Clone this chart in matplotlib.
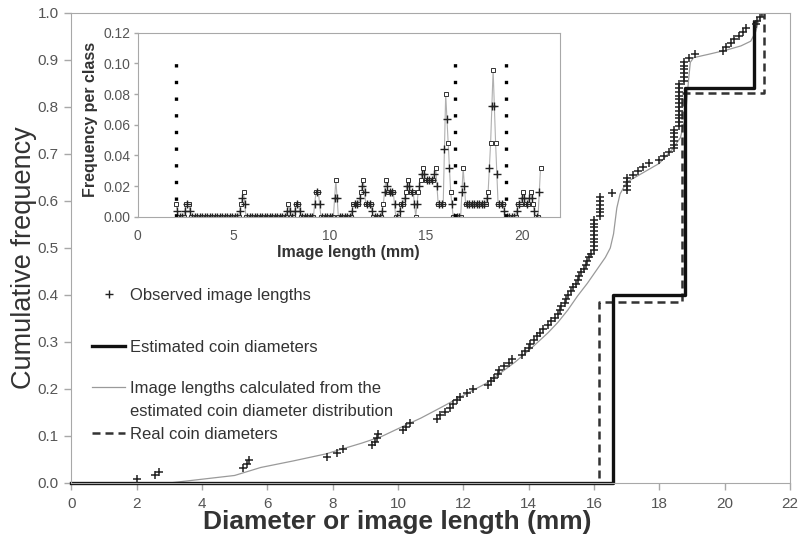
import numpy as np
import matplotlib.pyplot as plt
from matplotlib.lines import Line2D

plt.rcParams['font.family'] = ['Liberation Sans', 'DejaVu Sans']

# observed image lengths (mm), sorted, one per coin image (n = 125)
obs_len = [2.0, 2.56, 2.68,
           5.25, 5.38, 5.45,
           7.82, 8.12, 8.33,
           9.2, 9.3, 9.35, 9.4,
           10.15, 10.25, 10.37,
           11.2, 11.3, 11.45, 11.6, 11.7, 11.8, 11.9, 12.1, 12.3,
           12.75, 12.85, 12.95, 13.05, 13.1, 13.25, 13.4, 13.5,
           13.8, 13.9, 14.0, 14.05, 14.15, 14.25, 14.35, 14.45,
           14.6, 14.7, 14.8, 14.9, 14.95, 15.0, 15.1, 15.15, 15.2, 15.3, 15.36,
           15.45, 15.5, 15.55, 15.6, 15.7, 15.75, 15.8, 15.85, 15.9,
           16.0, 16.0, 16.0, 16.0, 16.0, 16.0, 16.0, 16.0, 16.0,
           16.2, 16.2, 16.2, 16.2, 16.2, 16.2,
           16.55,
           17.02, 17.02, 17.02, 17.02,
           17.2, 17.35, 17.5, 17.7,
           18.0, 18.15, 18.3,
           18.45, 18.45, 18.45, 18.45, 18.45, 18.45,
           18.6, 18.6, 18.6, 18.6, 18.6, 18.6, 18.6, 18.6, 18.6, 18.6, 18.6, 18.6,
           18.75, 18.75, 18.75, 18.75, 18.75, 18.75,
           18.9, 19.1,
           19.95, 20.05,
           20.2, 20.3, 20.45, 20.55, 20.65,
           20.95, 21.0, 21.08, 21.15]

# image lengths calculated from the estimated diameter distribution
calc_x = [3.0, 4.0, 5.0, 5.8, 6.8, 7.8, 8.9, 9.5, 10.2, 10.7, 11.3, 12.1, 12.7,
          13.1, 13.6, 14.1, 14.6, 14.9, 15.2, 15.5, 15.8, 16.1, 16.35, 16.5,
          16.6, 16.7, 16.8, 17.0, 17.5, 18.0, 18.4, 18.65, 18.8, 18.9, 18.95,
          19.05, 19.5, 20.05, 20.5, 20.8, 20.95, 21.05, 21.15]
calc_y = [0.0, 0.008, 0.016, 0.033, 0.047, 0.062, 0.085, 0.099, 0.122, 0.138,
          0.16, 0.19, 0.212, 0.232, 0.258, 0.288, 0.32, 0.342, 0.368, 0.398,
          0.425, 0.455, 0.48, 0.5, 0.53, 0.585, 0.615, 0.64, 0.66, 0.68, 0.71,
          0.735, 0.78, 0.86, 0.895, 0.905, 0.912, 0.921, 0.93, 0.94, 0.96,
          0.985, 1.0]

# estimated and real coin diameters (cumulative)
est_x = [0, 16.58, 18.78, 20.9]
est_cum = [0, 0.40, 0.84, 0.98]
real_x = [0, 16.15, 18.7, 21.2]
real_cum = [0, 0.385, 0.83, 1.0]

# inset: counts per 0.13 mm class starting at 2.0 mm (1 count = 1/125)
sq_counts = [1, 0, 0, 0, 1, 1,
             0, 0, 0, 0, 0, 0, 0, 0, 0, 0, 0, 0, 0, 0, 0, 0, 0, 0, 0, 0,
             1, 2,
             0, 0, 0, 0, 0, 0, 0, 0, 0, 0, 0, 0, 0, 0, 0, 0, 0,
             1, 0, 0, 1, 1,
             0, 0, 0, 0, 0, 0,
             2, 2,
             0, 0, 0, 0, 0, 0,
             3,
             0, 0, 0, 0, 0, 0,
             1, 1, 1, 2, 3, 1, 1, 1,
             0, 0, 0, 0,
             1, 3, 2, 2, 2,
             0, 0,
             1, 1, 2, 3, 2, 2,
             0,
             2, 3, 4, 3, 3, 3, 3, 4, 1, 1, 1,
             10, 6, 2,
             0, 0, 0, 0,
             4, 1, 1, 1, 1, 1, 1, 1, 1,
             1, 2, 6, 12, 6, 1, 1, 1,
             0, 0, 0, 0, 0,
             1, 1, 2, 1, 1, 2, 1, 0, 0, 4]
# smoothed frequency between classes (1 unit = 0.004)
plus_units = [1, 0, 0, 1, 2, 1,
              0, 0, 0, 0, 0, 0, 0, 0, 0, 0, 0, 0, 0, 0, 0, 0, 0, 0, 0,
              1, 3, 2,
              0, 0, 0, 0, 0, 0, 0, 0, 0, 0, 0, 0, 0, 0, 0, 0,
              1, 1, 0, 1, 2, 1,
              0, 0, 0, 0, 0,
              2, 4, 2,
              0, 0, 0, 0, 0,
              3, 3,
              0, 0, 0, 0, 0,
              1, 2, 2, 3, 5, 4, 2, 2, 1,
              0, 0, 0,
              1, 4, 5, 4, 4, 2, 0, 1, 2, 3, 5, 5, 4, 2, 2,
              5, 7, 7, 6, 6, 6, 7, 5, 2, 2, 11, 16, 8, 2,
              0, 0, 0,
              4, 5, 2, 2, 2, 2, 2, 2, 2, 2, 3, 8, 18, 18, 7, 2, 2, 1,
              0, 0, 0, 0,
              1, 2, 3, 3, 2, 3, 3, 1, 0, 4]
cut_x = [2.0, 16.55, 19.2]
cut_top = 0.10

fig = plt.figure(figsize=(7.98, 5.46), dpi=100)
ax = fig.add_axes([0.0893, 0.1154, 0.9006, 0.8608])

cum = np.arange(1, len(obs_len) + 1) / len(obs_len)
ax.plot(calc_x, calc_y, color='#9a9a9a', lw=0.9)
ax.step(real_x, real_cum, where='post', color='#333333', lw=1.8,
        dashes=(3.2, 2), clip_on=False)
ax.step(est_x, est_cum, where='post', color='#111111', lw=2.4, clip_on=False)
ax.plot(obs_len, cum, ls='none', marker='+', ms=6, mew=1.1, color='#222222')

ax.set_xlim(0, 22)
ax.set_ylim(0, 1.0)
ax.set_xticks(np.arange(0, 23, 2))
ax.set_yticks(np.arange(0, 1.01, 0.1))
ax.yaxis.set_major_formatter(plt.FormatStrFormatter('%.1f'))
for s in ax.spines.values():
    s.set_color('#a8a8a8')
ax.tick_params(direction='out', length=5, width=1, color='#a8a8a8',
               labelcolor='#555555', labelsize=11, pad=5)
ax.tick_params(axis='y', pad=4)
ax.set_xlabel('Diameter or image length (mm)', fontsize=19,
              fontweight='bold', color='#333333')
ax.xaxis.set_label_coords(0.454, -0.057)
ax.set_ylabel('Cumulative frequency', fontsize=19.5, color='#333333')
ax.yaxis.set_label_coords(-0.048, 0.48)

# legend, split in two blocks to follow the original spacing
h_obs = Line2D([], [], ls='none', marker='+', ms=6, mew=1.0, color='#222222')
h_est = Line2D([], [], color='#111111', lw=2.4)
h_calc = Line2D([], [], color='#9a9a9a', lw=0.9)
h_blank = Line2D([], [], ls='none')
h_real = Line2D([], [], color='#333333', lw=1.8, dashes=(3.2, 2))
leg1 = ax.legend([h_obs, h_est], ['Observed image lengths', 'Estimated coin diameters'],
                 loc='upper left', bbox_to_anchor=(0.029, 0.415), frameon=False,
                 fontsize=12, handlelength=2.0, handletextpad=0.25,
                 labelspacing=2.22, borderpad=0, borderaxespad=0)
for t in leg1.get_texts():
    t.set_color('#333333')
ax.add_artist(leg1)
leg2 = ax.legend([h_calc, h_blank, h_real],
                 ['Image lengths calculated from the',
                  'estimated coin diameter distribution', 'Real coin diameters'],
                 loc='upper left', bbox_to_anchor=(0.029, 0.217), frameon=False,
                 fontsize=12, handlelength=2.0, handletextpad=0.25,
                 labelspacing=0.48, borderpad=0, borderaxespad=0)
for t in leg2.get_texts():
    t.set_color('#333333')

# inset: frequency per class
ins = fig.add_axes([0.1726, 0.6031, 0.5293, 0.337])
ins.set_facecolor('white')
cls_x = 2.0 + 0.13 * np.arange(len(sq_counts))
mid_x = cls_x[:-1] + 0.065
ins.plot(cls_x, np.array(sq_counts) / 125, color='#b0b0b0', lw=0.8,
         marker='s', ms=3.5, mfc='white', mec='#333333', mew=0.7)
ins.plot(mid_x, np.array(plus_units) * 0.004, ls='none', marker='+', ms=6,
         mew=1.0, color='#222222')
ins.vlines(cut_x, 0, cut_top, colors='black', linestyles=[(0, (1, 4))], lw=2.4)
ins.set_xlim(0, 22)
ins.set_ylim(0, 0.12)
ins.set_xticks([0, 5, 10, 15, 20])
ins.set_yticks(np.arange(0, 0.121, 0.02))
ins.yaxis.set_major_formatter(plt.FormatStrFormatter('%.2f'))
for s in ins.spines.values():
    s.set_color('#a8a8a8')
ins.tick_params(direction='out', length=3, width=1, color='#a8a8a8',
                labelcolor='#555555', labelsize=10, pad=2)
ins.tick_params(axis='x', length=0, pad=9)
ins.set_xlabel('Image length (mm)', fontsize=11.5, fontweight='bold', color='#333333')
ins.xaxis.set_label_coords(0.498, -0.154)
ins.set_ylabel('Frequency per class', fontsize=11.5, fontweight='bold', color='#333333')
ins.yaxis.set_label_coords(-0.094, 0.526)

fig.savefig('out.png', dpi=100)
